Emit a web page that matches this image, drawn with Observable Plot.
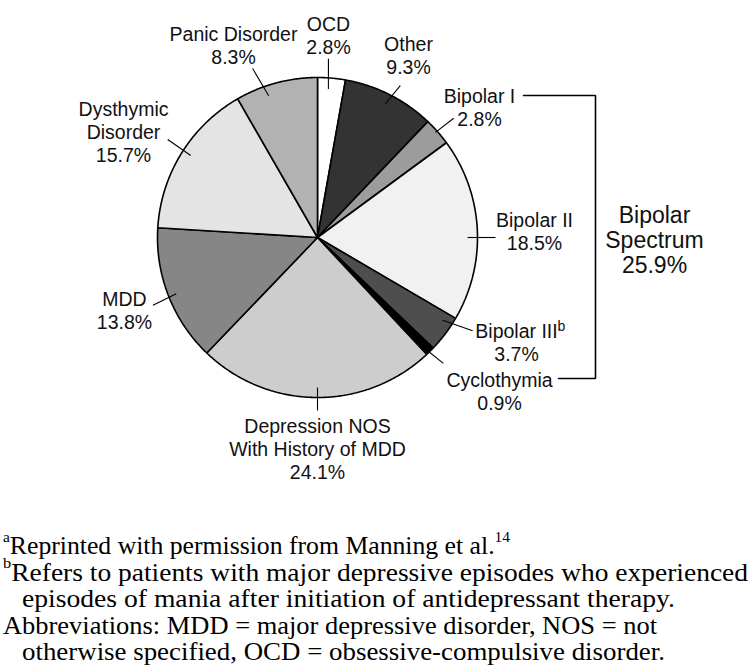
<!DOCTYPE html>
<html>
<head>
<meta charset="utf-8">
<script src="https://cdn.jsdelivr.net/npm/d3@7"></script>
<script src="https://cdn.jsdelivr.net/npm/@observablehq/plot@0.6"></script>
<style>
  body { margin: 0; background: #fff; }
  #chart svg { display: block; }
  #notes { font-family: "Liberation Serif", "Times New Roman", Times, serif; font-size: 25px; line-height: 26.6px; color: #000; width: 753px; overflow: hidden; padding-top: 13px; }
  .ln { display: block; height: 26.6px; white-space: nowrap; }
  .ln span.in { display: inline-block; transform-origin: 0 0; }
  .ln sup { font-size: 0.6em; line-height: 0; position: relative; top: -0.2em; }
</style>
</head>
<body>
<div id="chart"></div>
<div id="notes"></div>
<script>
// ---------- data ----------
const categories = ["OCD", "Other", "Bipolar I", "Bipolar II", "Bipolar III", "Cyclothymia",
  "Depression NOS With History of MDD", "MDD", "Dysthymic Disorder", "Panic Disorder"];
const values = [2.8, 9.3, 2.8, 18.5, 3.7, 0.9, 24.1, 13.8, 15.7, 8.3];
const labelLines = [["OCD"], ["Other"], ["Bipolar I"], ["Bipolar II"], ["Bipolar III"], ["Cyclothymia"],
  ["Depression NOS", "With History of MDD"], ["MDD"], ["Dysthymic", "Disorder"], ["Panic Disorder"]];
const labelSuperscripts = ["", "", "", "", "b", "", "", "", "", ""];
const spectrumMembers = ["Bipolar I", "Bipolar II", "Bipolar III", "Cyclothymia"];
const spectrumTitle = ["Bipolar", "Spectrum"];
const sliceFills = ["#ffffff", "#333333", "#9c9c9c", "#f1f1f1", "#4e4e4e", "#000000",
  "#cdcdcd", "#868686", "#e4e4e4", "#b2b2b2"];
const footnotes = [
  {sup: "a", text: "Reprinted with permission from Manning et al.", tail: "14"},
  {sup: "b", text: "Refers to patients with major depressive episodes who experienced"},
  {text: "episodes of mania after initiation of antidepressant therapy."},
  {text: "Abbreviations: MDD = major depressive disorder, NOS = not"},
  {text: "otherwise specified, OCD = obsessive-compulsive disorder."}
];

// ---------- layout ----------
const W = 753, H = 520, CX = 317, CY = 237, R = 160;
const FS = 19.5, LH = 23.4, SANS = "Liberation Sans, Arial, Helvetica, sans-serif";
// label text: first baseline offset from the pie centre; leader: two polar points [deg, radius]
const labelLayout = {
  "OCD": {dx: 11, dy: -207, lead: [[4.2, 149], [3.5, 179]]},
  "Other": {dx: 91, dy: -187, lead: [[26.9, 150], [28.6, 173]]},
  "Bipolar I": {dx: 162, dy: -135, lead: [[48.3, 158], [48.8, 181]]},
  "Bipolar II": {dx: 217, dy: -11, lead: [[90, 150], [90, 178]]},
  "Bipolar III": {dx: 199, dy: 100, lead: [[123.5, 150], [121, 181]], sup: [240, 93]},
  "Cyclothymia": {dx: 182, dy: 149, lead: [[135.8, 158], [135, 178]]},
  "Depression NOS With History of MDD": {dx: 0, dy: 195, lead: [[180, 150], [180, 173]]},
  "MDD": {dx: -193, dy: 68, lead: [[248.3, 152], [247.6, 178]]},
  "Dysthymic Disorder": {dx: -194, dy: -122, lead: [[302.9, 151], [303.2, 179]]},
  "Panic Disorder": {dx: -84, dy: -197, lead: [[341, 150], [339, 181]]}
};
const spectrumLayout = {dx: 337, dy: -15, lh: 25, fs: 23, top: -142, bottom: 141, xIn: 206, xOut: 278, xBottomIn: 241};

// ---------- derived geometry ----------
const total = d3.sum(values);
const ends = d3.cumsum(values);
const polar = (deg, r) => {
  const a = deg * Math.PI / 180;
  return [CX + r * Math.sin(a), CY - r * Math.cos(a)];
};
const slicePts = [];
categories.forEach((cat, i) => {
  const a0 = (ends[i] - values[i]) / total * 360, a1 = ends[i] / total * 360;
  slicePts.push({cat, x: CX, y: CY});
  const n = Math.max(2, Math.ceil((a1 - a0) / 0.5));
  for (let k = 0; k <= n; k++) {
    const [x, y] = polar(a0 + (a1 - a0) * k / n, R);
    slicePts.push({cat, x, y});
  }
});

const pct = v => `${v.toFixed(1)}%`;
const textRows = [], leaders = [], sups = [];
categories.forEach((cat, i) => {
  const L = labelLayout[cat];
  const lines = [...labelLines[i], pct(values[i])];
  lines.forEach((t, j) => textRows.push({text: t, x: CX + L.dx, y: CY + L.dy + j * LH}));
  const [x1, y1] = polar(...L.lead[0]);
  const [x2, y2] = polar(...L.lead[1]);
  leaders.push({x1, y1, x2, y2});
  if (labelSuperscripts[i]) sups.push({text: labelSuperscripts[i], x: CX + L.sup[0], y: CY + L.sup[1]});
});

const spectrumValue = d3.sum(categories.map((c, i) => spectrumMembers.includes(c) ? values[i] : 0));
const S = spectrumLayout;
const spectrumRows = [...spectrumTitle, pct(spectrumValue)].map((t, j) => ({text: t, x: CX + S.dx, y: CY + S.dy + j * S.lh}));
const bracket = [
  {x: CX + S.xIn, y: CY + S.top}, {x: CX + S.xOut, y: CY + S.top},
  {x: CX + S.xOut, y: CY + S.bottom}, {x: CX + S.xBottomIn, y: CY + S.bottom}
];

const chart = Plot.plot({
  width: W, height: H, margin: 0,
  x: {domain: [0, W], range: [0, W], axis: null},
  y: {domain: [0, H], range: [0, H], axis: null},
  color: {domain: categories, range: sliceFills},
  style: {background: "#fff"},
  marks: [
    Plot.line(slicePts, {x: "x", y: "y", z: "cat", fill: "cat", stroke: "#000", strokeWidth: 1.6, curve: "linear-closed", strokeLinejoin: "miter"}),
    Plot.link(leaders, {x1: "x1", y1: "y1", x2: "x2", y2: "y2", stroke: "#000", strokeWidth: 1.1}),
    Plot.line(bracket, {x: "x", y: "y", stroke: "#000", strokeWidth: 1.6, strokeLinejoin: "miter"}),
    Plot.text(textRows, {x: "x", y: "y", text: "text", textAnchor: "middle", lineAnchor: "bottom", fontSize: FS, fontFamily: SANS, fill: "#111"}),
    Plot.text(sups, {x: "x", y: "y", text: "text", textAnchor: "start", lineAnchor: "bottom", fontSize: 14, fontFamily: SANS, fill: "#111"}),
    Plot.text(spectrumRows, {x: "x", y: "y", text: "text", textAnchor: "middle", lineAnchor: "bottom", fontSize: S.fs, fontFamily: SANS, fill: "#111"})
  ]
});
document.getElementById("chart").append(chart);

// ---------- footnotes ----------
const noteStarts = [3, 3, 22, 3, 22];
const noteEnds = [510, 748, 675, 657, 665];
const notes = document.getElementById("notes");
footnotes.forEach((f, i) => {
  const line = document.createElement("div");
  line.className = "ln";
  line.style.paddingLeft = noteStarts[i] + "px";
  const inner = document.createElement("span");
  inner.className = "in";
  if (f.sup) { const s = document.createElement("sup"); s.textContent = f.sup; inner.append(s); }
  inner.append(document.createTextNode(f.text));
  if (f.tail) { const s = document.createElement("sup"); s.textContent = f.tail; inner.append(s); }
  line.append(inner);
  notes.append(line);
  const w = inner.getBoundingClientRect().width;
  inner.style.transform = `scaleX(${(noteEnds[i] - noteStarts[i]) / w})`;
});
</script>
</body>
</html>
